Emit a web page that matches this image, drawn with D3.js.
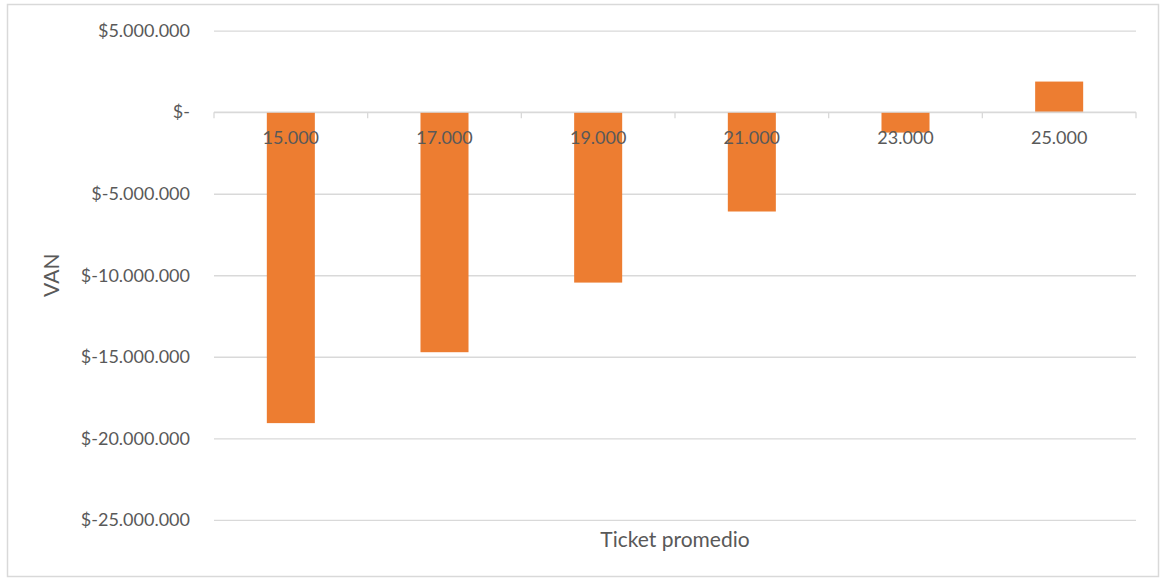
<!DOCTYPE html>
<html>
<head>
<meta charset="utf-8">
<script src="https://cdn.jsdelivr.net/npm/d3@7"></script>
<style>
  html, body { margin: 0; padding: 0; background: #fff; }
  svg text { font-family: Lato, "Open Sans", sans-serif; fill: #595959; }
</style>
</head>
<body>
<svg id="chart" width="1161" height="580"></svg>
<script>
// Ticket promedio (average ticket) scenarios
const categories = ["15.000", "17.000", "19.000", "21.000", "23.000", "25.000"];
// VAN (net present value) for each scenario
const vanValues = [-19070000, -14720000, -10450000, -6090000, -1250000, 1880000];
// Value axis ticks
const yTicks = [5000000, 0, -5000000, -10000000, -15000000, -20000000, -25000000];

const svg = d3.select("#chart");
const plot = { left: 214, right: 1136, top: 30.7, bottom: 519.8 };

// Chart frame
svg.append("rect")
  .attr("x", 7.5).attr("y", 4.5)
  .attr("width", 1151).attr("height", 572)
  .attr("fill", "#fff")
  .attr("stroke", "#d9d9d9").attr("stroke-width", 1.5);

const x = d3.scaleBand()
  .domain(categories)
  .range([plot.left, plot.right])
  .paddingInner(0.6875)
  .paddingOuter(0.34375);

const y = d3.scaleLinear()
  .domain([-25000000, 5000000])
  .range([plot.bottom, plot.top]);

const fmtNum = d3.formatLocale({ decimal: ",", thousands: ".", grouping: [3], currency: ["$", ""] }).format(",d");
const fmtMoney = v => v === 0 ? "$-" : (v < 0 ? "$-" + fmtNum(-v) : "$" + fmtNum(v));

// Horizontal gridlines + value labels via a left axis
const yAxis = d3.axisLeft(y)
  .tickValues(yTicks)
  .tickFormat(fmtMoney)
  .tickSize(-(plot.right - plot.left))
  .tickPadding(24);

const gy = svg.append("g")
  .attr("transform", `translate(${plot.left},0)`)
  .call(yAxis);
gy.select(".domain").remove();
gy.selectAll(".tick line")
  .attr("stroke", "#d9d9d9").attr("stroke-width", 1.3);
gy.selectAll(".tick text")
  .attr("font-size", 18)
  .style("fill", "#595959");

// Bars
svg.append("g")
  .selectAll("rect")
  .data(categories.map((c, i) => ({ c, v: vanValues[i] })))
  .join("rect")
  .attr("x", d => x(d.c))
  .attr("width", x.bandwidth())
  .attr("y", d => y(Math.max(0, d.v)))
  .attr("height", d => Math.abs(y(d.v) - y(0)))
  .attr("fill", "#ED7D31");

// Category axis along zero with boundary ticks
const step = x.step();
const zeroY = y(0);
const boundaries = d3.range(categories.length + 1).map(i => plot.left + i * step);
svg.append("line")
  .attr("x1", plot.left).attr("x2", plot.right)
  .attr("y1", zeroY).attr("y2", zeroY)
  .attr("stroke", "#d9d9d9").attr("stroke-width", 1.3);
svg.append("g")
  .selectAll("line")
  .data(boundaries)
  .join("line")
  .attr("x1", d => d).attr("x2", d => d)
  .attr("y1", zeroY).attr("y2", zeroY + 6)
  .attr("stroke", "#d9d9d9").attr("stroke-width", 1.3);

// Category labels
svg.append("g")
  .selectAll("text")
  .data(categories)
  .join("text")
  .attr("x", d => x(d) + x.bandwidth() / 2)
  .attr("y", zeroY + 32)
  .attr("text-anchor", "middle")
  .attr("font-size", 18)
  .text(d => d);

// Axis titles
svg.append("text")
  .attr("transform", `translate(${59},${(plot.top + plot.bottom) / 2}) rotate(-90)`)
  .attr("text-anchor", "middle")
  .attr("font-size", 21)
  .text("VAN");

svg.append("text")
  .attr("x", (plot.left + plot.right) / 2)
  .attr("y", 547)
  .attr("text-anchor", "middle")
  .attr("font-size", 21)
  .text("Ticket promedio");
</script>
</body>
</html>
